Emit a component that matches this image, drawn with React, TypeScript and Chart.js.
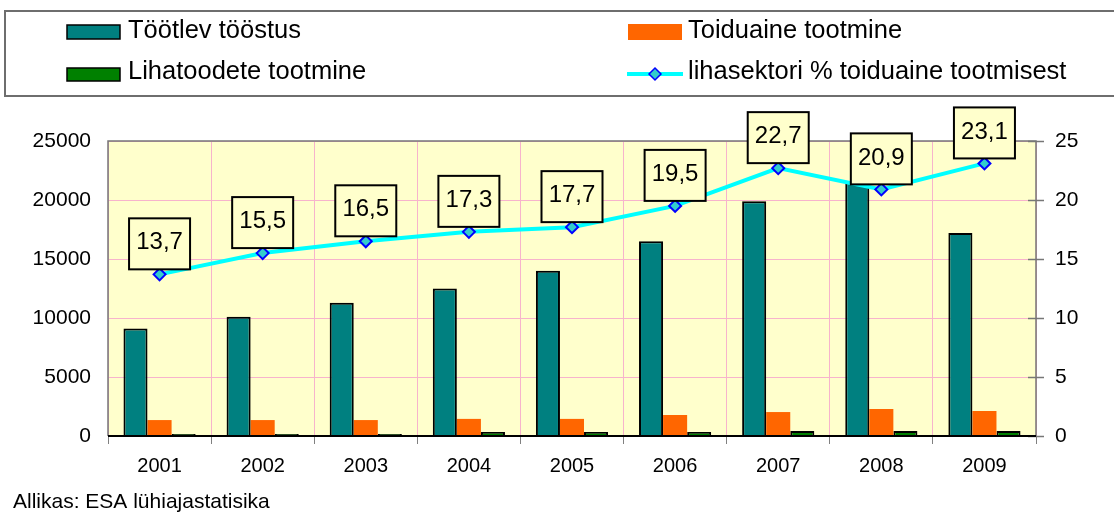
import React, { useEffect, useRef } from "react";
import { Chart, registerables } from "chart.js";

Chart.register(...registerables);

const categories = ["2001", "2002", "2003", "2004", "2005", "2006", "2007", "2008", "2009"];
const seriesNames = [
  "Töötlev tööstus",
  "Toiduaine tootmine",
  "Lihatoodete tootmine",
  "lihasektori % toiduaine tootmisest",
];
const tootlevToostus = [9100, 10100, 11300, 12500, 14000, 16500, 19900, 21500, 17200];
const toiduaineTootmine = [1350, 1350, 1350, 1450, 1450, 1780, 2030, 2290, 2120];
const lihatoodeteTootmine = [170, 170, 170, 340, 340, 340, 420, 420, 420];
const lihasektoriPct = [13.7, 15.5, 16.5, 17.3, 17.7, 19.5, 22.7, 20.9, 23.1];
const pctLabels = ["13,7", "15,5", "16,5", "17,3", "17,7", "19,5", "22,7", "20,9", "23,1"];
const leftAxis = { min: 0, max: 25000, step: 5000 };
const rightAxis = { min: 0, max: 25, step: 5 };
const sourceText = "Allikas: ESA lühiajastatisika";

const FONT = "'Liberation Sans', Arial, Helvetica, sans-serif";
const PINK = "#F7B3CC";
const PLOT_BG = "#FFFFCC";

const decorPlugin = {
  id: "decor",
  beforeDraw(chart: any) {
    const ctx = chart.ctx;
    const { left, top, right, bottom } = chart.chartArea;
    ctx.save();
    ctx.fillStyle = "#FFFFFF";
    ctx.fillRect(0, 0, chart.width, chart.height);
    ctx.fillStyle = PLOT_BG;
    ctx.fillRect(left, top, right - left, bottom - top);

    // legend box
    ctx.strokeStyle = "#6E6E6E";
    ctx.lineWidth = 2;
    ctx.strokeRect(5, 11, 1120, 85);

    ctx.font = `25.5px ${FONT}`;
    ctx.textBaseline = "alphabetic";
    ctx.textAlign = "left";
    ctx.fillStyle = "#000";

    // Töötlev tööstus
    ctx.fillStyle = "#008080";
    ctx.fillRect(67, 25, 53, 14);
    ctx.strokeStyle = "#000";
    ctx.lineWidth = 1.5;
    ctx.strokeRect(67, 25, 53, 14);
    ctx.fillStyle = "#000";
    ctx.fillText(seriesNames[0], 128, 38);

    // Lihatoodete tootmine
    ctx.fillStyle = "#008000";
    ctx.fillRect(67, 68, 53, 13);
    ctx.strokeRect(67, 68, 53, 13);
    ctx.fillStyle = "#000";
    ctx.fillText(seriesNames[2], 128, 79);

    // Toiduaine tootmine
    ctx.fillStyle = "#FF6600";
    ctx.fillRect(628, 24, 54, 16);
    ctx.fillStyle = "#000";
    ctx.fillText(seriesNames[1], 688, 38);

    // line legend
    ctx.strokeStyle = "#00FFFF";
    ctx.lineWidth = 4;
    ctx.beginPath();
    ctx.moveTo(627, 74);
    ctx.lineTo(683, 74);
    ctx.stroke();
    ctx.beginPath();
    ctx.moveTo(649, 74);
    ctx.lineTo(655, 68);
    ctx.lineTo(661, 74);
    ctx.lineTo(655, 80);
    ctx.closePath();
    ctx.fillStyle = "#33CCCC";
    ctx.fill();
    ctx.strokeStyle = "#0000FF";
    ctx.lineWidth = 1.5;
    ctx.stroke();
    ctx.fillStyle = "#000";
    ctx.fillText(seriesNames[3], 688, 79);

    // source
    ctx.font = `21px ${FONT}`;
    ctx.fillText(sourceText, 13, 508);
    ctx.restore();
  },
  afterDatasetsDraw(chart: any) {
    const ctx = chart.ctx;
    const { left, top, right, bottom } = chart.chartArea;
    ctx.save();
    // plot border
    ctx.strokeStyle = "#777777";
    ctx.lineWidth = 1.5;
    ctx.beginPath();
    ctx.moveTo(left, bottom);
    ctx.lineTo(left, top);
    ctx.lineTo(right, top);
    ctx.lineTo(right, bottom);
    ctx.stroke();
    // right axis cross ticks
    const y1 = chart.scales.y1;
    y1.ticks.forEach((t: any) => {
      const py = Math.round(y1.getPixelForValue(t.value)) + 0.5;
      ctx.beginPath();
      ctx.moveTo(right - 8, py);
      ctx.lineTo(right + 8, py);
      ctx.stroke();
    });
    // x axis line
    ctx.strokeStyle = "#000";
    ctx.lineWidth = 2;
    ctx.beginPath();
    ctx.moveTo(left, bottom);
    ctx.lineTo(right, bottom);
    ctx.stroke();

    // data labels
    const meta = chart.getDatasetMeta(0);
    ctx.font = `24px ${FONT}`;
    ctx.textAlign = "center";
    ctx.textBaseline = "middle";
    meta.data.forEach((pt: any, i: number) => {
      const w = 61;
      const h = 51;
      const bx = pt.x - w / 2;
      const by = pt.y - 5 - h;
      ctx.fillStyle = PLOT_BG;
      ctx.fillRect(bx, by, w, h);
      ctx.strokeStyle = "#000";
      ctx.lineWidth = 2;
      ctx.strokeRect(bx, by, w, h);
      ctx.fillStyle = "#000";
      ctx.fillText(pctLabels[i], pt.x, by + h / 2 - 1);
    });
    ctx.restore();
  },
};

export default function App() {
  const ref = useRef<HTMLCanvasElement | null>(null);
  useEffect(() => {
    if (!ref.current) return;
    const chart = new Chart(ref.current, {
      type: "bar",
      data: {
        labels: categories,
        datasets: [
          {
            type: "line",
            label: seriesNames[3],
            data: lihasektoriPct,
            yAxisID: "y1",
            borderColor: "#00FFFF",
            borderWidth: 4,
            pointStyle: "rectRot",
            pointRadius: 6,
            pointBackgroundColor: "#33CCCC",
            pointBorderColor: "#0000FF",
            pointBorderWidth: 2,
            tension: 0,
            order: 0,
            clip: false,
          } as any,
          {
            label: seriesNames[0],
            data: tootlevToostus,
            yAxisID: "y",
            backgroundColor: "#008080",
            borderColor: "#000",
            borderWidth: 2,
            order: 1,
          },
          {
            label: seriesNames[1],
            data: toiduaineTootmine,
            yAxisID: "y",
            backgroundColor: "#FF6600",
            borderWidth: 0,
            order: 1,
          },
          {
            label: seriesNames[2],
            data: lihatoodeteTootmine,
            yAxisID: "y",
            backgroundColor: "#008000",
            borderColor: "#000",
            borderWidth: 2,
            order: 1,
          },
        ],
      },
      options: {
        responsive: false,
        maintainAspectRatio: false,
        animation: false,
        devicePixelRatio: 1,
        datasets: { bar: { barPercentage: 1, categoryPercentage: 0.7 } },
        layout: { padding: { top: 141, left: 0, right: 0, bottom: 0 } },
        plugins: { legend: { display: false }, tooltip: { enabled: false } },
        scales: {
          x: {
            offset: true,
            grid: {
              color: PINK,
              offset: true,
              drawTicks: true,
              tickLength: 8,
              tickColor: "#808080",
            },
            border: { display: false },
            ticks: {
              color: "#000",
              font: { family: FONT, size: 20 },
              padding: 10,
              maxRotation: 0,
              autoSkip: false,
            },
            afterFit: (s: any) => {
              s.height = 76;
            },
          },
          y: {
            position: "left",
            min: leftAxis.min,
            max: leftAxis.max,
            grid: { color: PINK, drawTicks: false },
            border: { display: false },
            ticks: {
              stepSize: leftAxis.step,
              color: "#000",
              font: { family: FONT, size: 21 },
              padding: 17,
              callback: (v: any) => String(v),
            },
            afterFit: (s: any) => {
              s.width = 108;
            },
          },
          y1: {
            position: "right",
            min: rightAxis.min,
            max: rightAxis.max,
            grid: { drawOnChartArea: false, drawTicks: false },
            border: { display: false },
            ticks: {
              stepSize: rightAxis.step,
              color: "#000",
              font: { family: FONT, size: 21 },
              padding: 19,
              callback: (v: any) => String(v),
            },
            afterFit: (s: any) => {
              s.width = 78;
            },
          },
        },
      },
      plugins: [decorPlugin],
    } as any);
    return () => chart.destroy();
  }, []);
  return (
    <div style={{ position: "absolute", left: 0, top: 0, width: 1114, height: 512, background: "#fff" }}>
      <canvas ref={ref} width={1114} height={512} style={{ display: "block" }} />
    </div>
  );
}
